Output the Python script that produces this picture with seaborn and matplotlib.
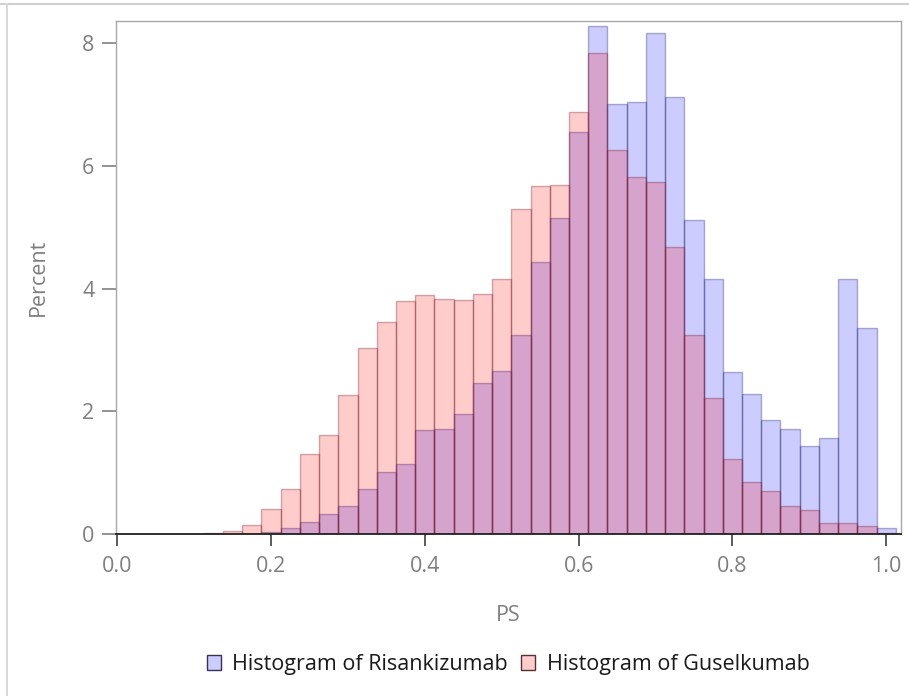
import pandas as pd
import matplotlib
matplotlib.use("Agg")
import matplotlib.pyplot as plt
import seaborn as sns
from matplotlib.lines import Line2D

# percent per bin, bins 0.025 wide centred on 0.0, 0.025, ... 1.0
bin_centers = [round(i * 0.025, 4) for i in range(41)]
risankizumab = [0, 0, 0, 0, 0, 0, 0, 0.01, 0.04, 0.10,
                0.20, 0.33, 0.46, 0.74, 1.02, 1.15, 1.69, 1.72, 1.96, 2.46,
                2.65, 3.25, 4.43, 5.15, 6.55, 8.27, 7.01, 7.04, 8.16, 7.11,
                5.11, 4.15, 2.64, 2.29, 1.86, 1.71, 1.44, 1.56, 4.15, 3.35,
                0.11]
guselkumab = [0.01, 0.005, 0.005, 0.005, 0.01, 0.02, 0.05, 0.15, 0.41, 0.74,
              1.30, 1.61, 2.26, 3.04, 3.45, 3.79, 3.89, 3.83, 3.82, 3.91,
              4.15, 5.29, 5.67, 5.69, 6.87, 7.83, 6.25, 5.82, 5.74, 4.67,
              3.25, 2.22, 1.23, 0.85, 0.70, 0.46, 0.40, 0.19, 0.19, 0.13,
              0.02]
edges = [round(i * 0.025 - 0.0125, 4) for i in range(42)]

df_r = pd.DataFrame({"PS": bin_centers, "pct": risankizumab})
df_g = pd.DataFrame({"PS": bin_centers, "pct": guselkumab})

blue_face = (0, 0, 1, 0.2)
blue_edge = (0.15, 0.15, 0.45, 0.35)
red_face = (1, 0, 0, 0.2)
red_edge = (0.45, 0.1, 0.15, 0.35)

fig = plt.figure(figsize=(9.09, 6.96), dpi=100)
ax = fig.add_axes([0.1273, 0.2323, 0.8636, 0.7379])

sns.histplot(data=df_r, x="PS", weights="pct", bins=edges, ax=ax,
             facecolor=blue_face, edgecolor=blue_edge, linewidth=1)
sns.histplot(data=df_g, x="PS", weights="pct", bins=edges, ax=ax,
             facecolor=red_face, edgecolor=red_edge, linewidth=1)
# seaborn sets its own alpha; reset so the rgba colours rule
for p in ax.patches:
    p.set_alpha(None)

ax.set_xlim(-0.002, 1.019)
ax.set_ylim(0, 8.358)
ax.set_xticks([0.0, 0.2, 0.4, 0.6, 0.8, 1.0])
ax.set_xticklabels(["0.0", "0.2", "0.4", "0.6", "0.8", "1.0"])
ax.set_yticks([0, 2, 4, 6, 8])

font = "Open Sans"
fsize = 15.5
for lab in ax.get_xticklabels() + ax.get_yticklabels():
    lab.set_fontfamily(font)
    lab.set_fontsize(fsize)
    lab.set_color("#7f7f7f")

ax.tick_params(axis="x", direction="out", length=8.6, width=1.2, color="#404040", pad=7)
ax.tick_params(axis="y", direction="out", length=9.9, width=1.2, color="#808080", pad=5.5)

for side in ["top", "right", "left"]:
    ax.spines[side].set_color("#a8a8a8")
    ax.spines[side].set_linewidth(1)
ax.spines["bottom"].set_color("#202020")
ax.spines["bottom"].set_linewidth(1.3)

ax.set_xlabel("PS", fontfamily=font, fontsize=fsize, color="#7f7f7f", labelpad=20)
ax.set_ylabel("Percent", fontfamily=font, fontsize=fsize, color="#7f7f7f", labelpad=24)

handles = [
    plt.Rectangle((0, 0), 1, 1, facecolor=blue_face, edgecolor="#333355", linewidth=1),
    plt.Rectangle((0, 0), 1, 1, facecolor=red_face, edgecolor="#553333", linewidth=1),
]
fig.legend(handles, ["Histogram of Risankizumab", "Histogram of Guselkumab"],
           loc="center", bbox_to_anchor=(0.559, 0.045), ncol=2, frameon=False,
           handlelength=0.65, handleheight=0.65, handletextpad=0.55, columnspacing=0.6,
           prop={"family": font, "size": fsize}, labelcolor="#1a1a1a")

# light frame of the panel
fig.add_artist(Line2D([0, 1], [0.9938, 0.9938], transform=fig.transFigure, color="#d0d0d0", lw=1.5))
fig.add_artist(Line2D([0.008, 0.008], [0, 0.9938], transform=fig.transFigure, color="#d8d8d8", lw=1.5))

fig.savefig("out.png", dpi=100)
